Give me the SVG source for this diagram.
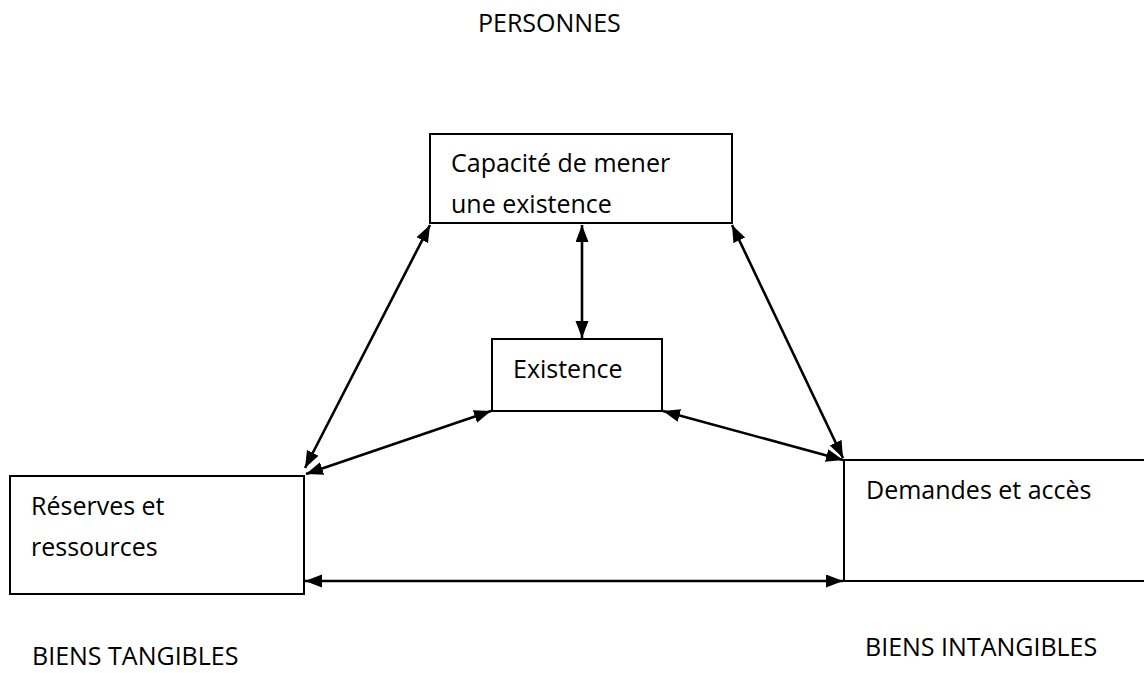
<svg xmlns="http://www.w3.org/2000/svg" width="1144" height="673" viewBox="0 0 1144 673">
<style>
.box{fill:#fff;stroke:#000;stroke-width:2}
.t{font-family:"Open Sans","Liberation Sans",sans-serif;font-size:25px;fill:#000}
.c{stroke:#000;stroke-width:2.6;fill:none;marker-start:url(#ah);marker-end:url(#ah)}
</style>
<defs>
<marker id="ah" markerUnits="userSpaceOnUse" markerWidth="18" markerHeight="14" refX="17" refY="6.5" orient="auto-start-reverse">
<path d="M0,0 L17,6.5 L0,13 Z" fill="#000"/>
</marker>
</defs>
<rect width="1144" height="673" fill="#fff"/>
<text class="t" x="478" y="32">PERSONNES</text>
<text class="t" x="32" y="665">BIENS TANGIBLES</text>
<text class="t" x="865" y="656">BIENS INTANGIBLES</text>
<g id="capacite">
<rect class="box" x="430" y="134" width="302" height="89"/>
<text class="t" x="451" y="172">Capacité de mener</text>
<text class="t" x="451" y="213">une existence</text>
</g>
<g id="existence">
<rect class="box" x="492" y="339" width="170" height="72"/>
<text class="t" x="513" y="378">Existence</text>
</g>
<g id="reserves">
<rect class="box" x="10" y="476" width="294" height="118"/>
<text class="t" x="31" y="515">Réserves et</text>
<text class="t" x="31" y="556">ressources</text>
</g>
<g id="demandes">
<rect class="box" x="844" y="460" width="320" height="121"/>
<text class="t" x="866" y="499">Demandes et accès</text>
</g>
<g id="connectors">
<line class="c" x1="582" y1="225" x2="582" y2="338"/>
<line class="c" x1="430" y1="225" x2="305" y2="468"/>
<line class="c" x1="491" y1="411" x2="306" y2="474"/>
<line class="c" x1="732" y1="225" x2="843" y2="458"/>
<line class="c" x1="663" y1="411" x2="843" y2="460"/>
<line class="c" x1="305" y1="581" x2="843" y2="581"/>
</g>
</svg>
